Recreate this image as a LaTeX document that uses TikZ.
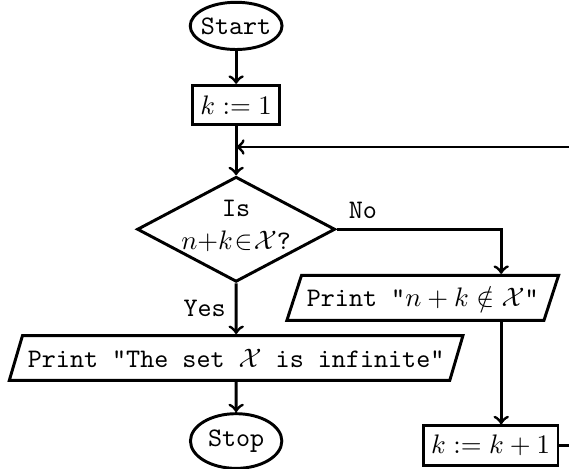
\documentclass[tikz,border=0pt]{standalone}
\usetikzlibrary{shapes.geometric,calc}

\begin{document}
\begin{tikzpicture}[
  every node/.style={font=\ttfamily},
  term/.style={draw, ellipse, minimum width=1.2cm, minimum height=0.62cm, inner xsep=-1pt, inner ysep=3pt},
  proc/.style={draw, rectangle, minimum height=0.52cm, inner xsep=3pt},
  decide/.style={draw, diamond, aspect=1.9, inner sep=-3pt, minimum width=2.6cm, minimum height=1.38cm, align=center},
  io/.style={draw, trapezium, trapezium left angle=70, trapezium right angle=110,
    trapezium stretches=true, minimum height=0.59cm, inner xsep=2pt},
  arrow/.style={->},
  line width=1.1pt
]
\useasboundingbox (0,0) rectangle (7.47,-6.155);

\node[term] (start) at (3.10,-0.34) {Start};
\node[proc] (kone) at (3.10,-1.38) {$k := 1$};
\node[decide] (isin) at (3.10,-3.01)
  {\raisebox{1pt}[\height][\depth]{\begin{tabular}{@{}c@{}}Is\\$n{+}k\mskip1mu{\in}\mskip1mu\mathcal{X}$?\end{tabular}}};
\node[io] (notin) at (5.55,-3.91) {Print "$n+k\notin\mathcal{X}$"};
\node[io] (infinite) at (3.10,-4.70) {Print "The set $\mathcal{X}$ is infinite"};
\node[term] (stop) at (3.10,-5.79) {Stop};
\node[proc] (knext) at (6.44,-5.85) {$k := k+1$};

\coordinate (join) at (3.10,-1.93);
\coordinate (side) at (6.58,-3.01);
\coordinate (back) at (7.8,-5.85);

\draw[arrow] (start) -- (kone);
\draw[arrow] (kone) -- (isin);
\draw[arrow] (isin.east) -| node[pos=0.08, above] {No} (side |- notin.north);
\draw[arrow] (isin) -- node[left] {Yes} (infinite);
\draw[arrow] (infinite) -- (stop);
\draw[arrow] (side |- notin.south) -- (side |- knext.north);
\draw[arrow] (knext.east) -- (back) |- (join);
\end{tikzpicture}
\end{document}
